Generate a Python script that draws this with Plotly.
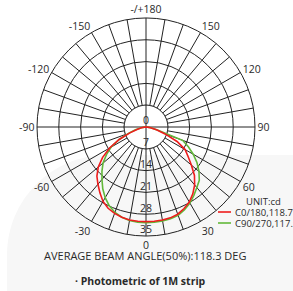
import numpy as np
import plotly.graph_objects as go

# ---- data ----
angles = [-90, -85, -80, -75, -70, -65, -60, -55, -50, -45, -40, -35, -30, -25, -20, -15, -10, -5,
          0, 5, 10, 15, 20, 25, 30, 35, 40, 45, 50, 55, 60, 65, 70, 75, 80, 85, 90]
c0_180 = [0, 0.5, 1.5, 3, 5.5, 9.5, 13.5, 17.0, 20.0, 22.3, 24.0, 25.8, 27.6, 28.8, 29.5, 30.0, 30.3, 30.4,
          30.4, 30.4, 30.3, 30.2, 29.8, 28.9, 27.8, 26.2, 24.3, 22.0, 19.0, 16.5, 14.5, 11.0, 6.5, 3.5, 1.5, 0.5, 0]
c90_270 = [0, 0.5, 1.5, 3.5, 6, 9.5, 13, 15.5, 18.0, 20.0, 22.0, 24.2, 26.2, 27.9, 29.2, 30.0, 30.5, 30.7,
           30.7, 30.7, 30.6, 30.5, 30.2, 29.3, 28.2, 26.8, 25.4, 24.2, 22.2, 20.0, 17.5, 15.0, 12.5, 4.0, 1.5, 0.5, 0]
series_names = ["C0/180,118.7", "C90/270,117.9"]
series_colors = ["#ee1d1d", "#62b83a"]
radial_ticks = [0, 7, 14, 21, 28, 35]
angle_tickvals = list(range(0, 360, 10))
angle_labels = {0: "0", 30: "30", 60: "60", 90: "90", 120: "120", 150: "150", 180: "-/+180",
                210: "-150", 240: "-120", 270: "-90", 300: "-60", 330: "-30"}
unit_text = "UNIT:cd"
beam_text = "AVERAGE BEAM ANGLE(50%):118.3 DEG"
caption_text = "· Photometric of 1M strip"

W, H = 293, 291
cx, cy, R = 146, 127, 109
grid_color = "#222222"
txt_color = "#2a2a2a"
font_family = "Open Sans, Lato, DejaVu Sans, sans-serif"

fig = go.Figure()

# white mask over the inner ring so radial grid lines start at r=7
ring_theta = np.linspace(0, 360, 181)
fig.add_trace(go.Scatterpolar(r=[radial_ticks[1]] * len(ring_theta), theta=ring_theta, mode="lines",
                              fill="toself", fillcolor="white",
                              line=dict(color=grid_color, width=1), hoverinfo="skip", showlegend=False))
# cross lines through the centre
fig.add_trace(go.Scatterpolar(r=[radial_ticks[1], 0, radial_ticks[1]], theta=[90, 90, 270], mode="lines",
                              line=dict(color=grid_color, width=1), hoverinfo="skip", showlegend=False))
fig.add_trace(go.Scatterpolar(r=[radial_ticks[1], 0, radial_ticks[1]], theta=[0, 0, 180], mode="lines",
                              line=dict(color=grid_color, width=1), hoverinfo="skip", showlegend=False))

# curves
fig.add_trace(go.Scatterpolar(r=c90_270, theta=angles, mode="lines", name=series_names[1],
                              line=dict(color=series_colors[1], width=1.6), showlegend=False))
fig.add_trace(go.Scatterpolar(r=c0_180, theta=angles, mode="lines", name=series_names[0],
                              line=dict(color=series_colors[0], width=1.6), showlegend=False))

# radial tick labels, centred on the downward axis
fig.add_trace(go.Scatterpolar(r=radial_ticks, theta=[0] * len(radial_ticks), mode="text",
                              text=[str(v) for v in radial_ticks], textposition="top center",
                              textfont=dict(size=10.5, color=txt_color, family=font_family),
                              hoverinfo="skip", showlegend=False))

fig.update_layout(
    width=W, height=H,
    margin=dict(l=0, r=0, t=0, b=0),
    paper_bgcolor="white",
    showlegend=False,
    font=dict(family=font_family, color=txt_color, size=10),
    polar=dict(
        domain=dict(x=[(cx - R) / W, (cx + R) / W], y=[1 - (cy + R) / H, 1 - (cy - R) / H]),
        bgcolor="rgba(0,0,0,0)",
        radialaxis=dict(range=[0, 35], tickvals=radial_ticks[1:-1], showticklabels=False, ticks="",
                        showline=False, gridcolor=grid_color, gridwidth=1, angle=-90),
        angularaxis=dict(rotation=-90, direction="counterclockwise",
                         tickvals=angle_tickvals,
                         ticktext=[angle_labels.get(v, "") for v in angle_tickvals],
                         ticks="", showline=True, linecolor=grid_color, linewidth=1,
                         gridcolor=grid_color, gridwidth=1,
                         tickfont=dict(size=10.5, color=txt_color, family=font_family)),
    ),
)

# faint background panel
k = 0.5523
x0, y0, rr = 7, 155, 100
def px(x):
    return x / W
def py(y):
    return 1 - y / H
path = (f"M {px(x0)},{py(300)} L {px(x0)},{py(y0 + rr)} "
        f"C {px(x0)},{py(y0 + rr - k * rr)} {px(x0 + rr - k * rr)},{py(y0)} {px(x0 + rr)},{py(y0)} "
        f"L {px(300)},{py(y0)} L {px(300)},{py(300)} Z")
fig.add_shape(type="path", path=path, xref="paper", yref="paper", fillcolor="#f7f7f7",
              line=dict(width=0), layer="below")

# manual legend
leg_x0, leg_x1, leg_tx = 218, 231, 233
leg_y = [212, 223]
for name, col, yy in zip(series_names, series_colors, leg_y):
    fig.add_shape(type="line", xref="paper", yref="paper", x0=px(leg_x0), x1=px(leg_x1),
                  y0=py(yy), y1=py(yy), line=dict(color=col, width=1.6))
    fig.add_annotation(text=name, xref="paper", yref="paper", x=px(leg_tx), y=py(yy),
                       xanchor="left", yanchor="middle", showarrow=False,
                       font=dict(size=9.5, color=txt_color, family=font_family))
fig.add_annotation(text=unit_text, xref="paper", yref="paper", x=px(263), y=py(201),
                   xanchor="center", yanchor="middle", showarrow=False,
                   font=dict(size=9.5, color=txt_color, family=font_family))

fig.add_annotation(text=beam_text, xref="paper", yref="paper", x=px(145), y=py(255),
                   xanchor="center", yanchor="middle", showarrow=False,
                   font=dict(size=11, color=txt_color, family=font_family))
fig.add_annotation(text=f"<b>{caption_text}</b>", xref="paper", yref="paper", x=px(140), y=py(281),
                   xanchor="center", yanchor="middle", showarrow=False,
                   font=dict(size=10.5, color=txt_color, family=font_family))

fig.write_html("out.html", config={"displayModeBar": False},
               post_script="document.body.style.margin='0';document.body.style.overflow='hidden';")
